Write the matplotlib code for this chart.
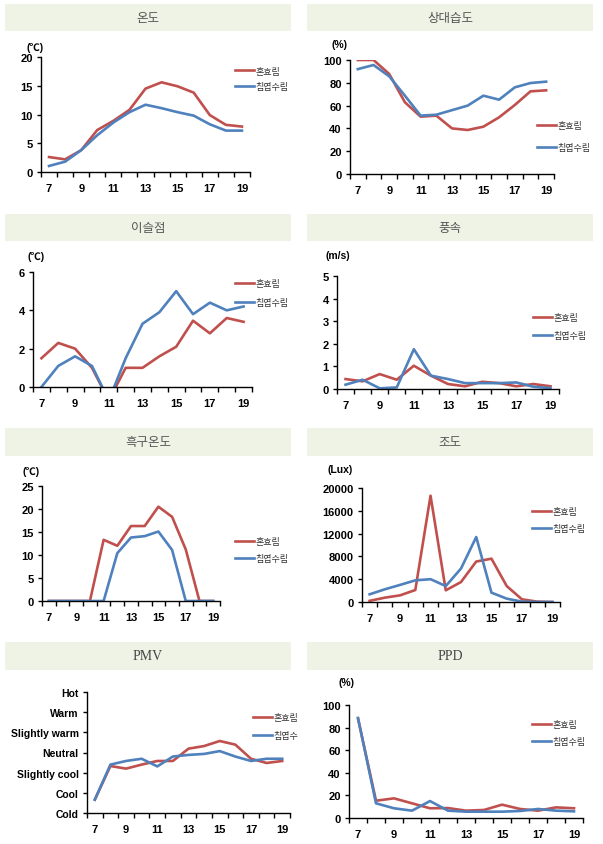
import matplotlib
matplotlib.use("Agg")
import matplotlib.pyplot as plt
from matplotlib.patches import Rectangle
import numpy as np

plt.rcParams['font.family'] = ['Liberation Sans', 'Noto Sans CJK KR', 'DejaVu Sans']

hours = [7, 8, 9, 10, 11, 12, 13, 14, 15, 16, 17, 18, 19]
hour_labels = ['7', '', '9', '', '11', '', '13', '', '15', '', '17', '', '19']
series_names = ['혼효림', '침엽수림']

temp_mixed = [2.6, 2.2, 3.8, 7.3, 8.9, 10.8, 14.5, 15.6, 14.9, 13.8, 9.9, 8.2, 7.9]
temp_conifer = [1.05, 1.8, 3.8, 6.4, 8.6, 10.4, 11.7, 11.1, 10.4, 9.8, 8.3, 7.2, 7.2]

rh_mixed = [100, 100, 87.7, 62.9, 50.3, 51.2, 40, 38.6, 41.5, 49.7, 60.5, 72.5, 73.4]
rh_conifer = [92, 95.6, 85.7, 68.7, 51.2, 52, 56, 60, 68.7, 65.2, 76, 79.8, 81]

dew_mixed = [1.5, 2.3, 2.0, 1.0, -0.7, 1.0, 1.0, 1.6, 2.1, 3.46, 2.8, 3.6, 3.4]
dew_conifer = [0.0, 1.1, 1.6, 1.1, -0.7, 1.5, 3.3, 3.9, 5.0, 3.8, 4.4, 4.0, 4.2]

wind_mixed = [0.44, 0.34, 0.66, 0.41, 1.03, 0.59, 0.22, 0.12, 0.32, 0.26, 0.12, 0.22, 0.12]
wind_conifer = [0.19, 0.41, 0.03, 0.07, 1.76, 0.59, 0.44, 0.26, 0.26, 0.26, 0.29, 0.10, 0.04]

globe_mixed = [0, 0, 0, 0, 13.3, 12.0, 16.3, 16.3, 20.5, 18.3, 11.2, 0, 0]
globe_conifer = [0, 0, 0, 0, 0, 10.4, 13.8, 14.1, 15.1, 11.1, 0, 0, 0]

lux_mixed = [200, 760, 1170, 2100, 18650, 2050, 3500, 7100, 7600, 2800, 470, 60, 0]
lux_conifer = [1350, 2230, 3000, 3800, 4000, 2800, 5870, 11400, 1640, 590, 60, 0, 0]

pmv_mixed = [-2.34, -0.67, -0.80, -0.60, -0.42, -0.42, 0.19, 0.32, 0.57, 0.39, -0.31, -0.52, -0.42]
pmv_conifer = [-2.34, -0.60, -0.42, -0.31, -0.69, -0.20, -0.12, -0.07, 0.07, -0.20, -0.42, -0.31, -0.31]
pmv_names = ['혼효림', '침엽수']
pmv_levels = [-3, -2, -1, 0, 1, 2, 3]
pmv_labels = ['Cold', 'Cool', 'Slightly cool', 'Neutral', 'Slightly warm', 'Warm', 'Hot']

ppd_mixed = [88, 15.3, 17.4, 13, 8.6, 8.8, 6.5, 7.1, 11.8, 8, 6.5, 9.4, 8.6]
ppd_conifer = [88.5, 13, 8.6, 6.5, 15, 6.5, 5.6, 5.6, 5.6, 6.2, 8, 6.5, 5.9]

W, H = 603, 845
fig = plt.figure(figsize=(W / 100, H / 100), dpi=100)
fig.patch.set_facecolor('white')

RED = '#C0504D'
BLUE = '#4F81BD'
BAND = '#EEF3E6'
LEG_FS = 6.5


def fx(x):
    return x / W


def fy(y):
    return 1 - y / H


def band(x0, x1, y0, y1, title, serif=False):
    fig.patches.append(Rectangle((fx(x0), fy(y1)), fx(x1) - fx(x0), fy(y0) - fy(y1),
                                 transform=fig.transFigure, facecolor=BAND, edgecolor='none'))
    if serif:
        fig.text(fx((x0 + x1) / 2), fy((y0 + y1) / 2), title, ha='center', va='center',
                 fontsize=10, color='#444444', family=['Liberation Serif', 'DejaVu Serif'])
    else:
        fig.text(fx((x0 + x1) / 2), fy((y0 + y1) / 2), title, ha='center', va='center',
                 fontsize=9, color='#555555', family=['Noto Sans CJK KR', 'DejaVu Sans'])


def make_axes(l, r, t, b, y0, y1, yticks, ytlabels, mixed, conifer, names,
              leg_x, leg_y, leg_sp, unit=None, unit_xy=None, ytick_size=8):
    ax = fig.add_axes([fx(l), fy(b), fx(r) - fx(l), fy(t) - fy(b)])
    x = np.arange(len(hours))
    ax.plot(x, mixed, color=RED, lw=1.9, label=names[0], solid_joinstyle='round')
    ax.plot(x, conifer, color=BLUE, lw=1.9, label=names[1], solid_joinstyle='round')
    ax.set_xlim(-0.5, len(hours) - 0.5)
    ax.set_ylim(y0, y1)
    for s in ['top', 'right']:
        ax.spines[s].set_visible(False)
    for s in ['left', 'bottom']:
        ax.spines[s].set_linewidth(1.0)
        ax.spines[s].set_color('black')
    ax.set_xticks(x)
    ax.set_xticklabels(hour_labels)
    ax.set_xticks(np.arange(-0.5, len(hours), 1.0), minor=True)
    ax.tick_params(axis='x', which='major', length=0, pad=8, labelsize=8)
    ax.tick_params(axis='x', which='minor', length=3.5, width=1.0, direction='out')
    ax.set_yticks(yticks)
    ax.set_yticklabels(ytlabels)
    ax.tick_params(axis='y', length=3, width=1.0, direction='out', pad=3, labelsize=ytick_size)
    for lab in ax.get_xticklabels() + ax.get_yticklabels():
        lab.set_fontweight('bold')
    ax.set_facecolor('none')
    leg = ax.legend(loc='upper left', bbox_to_anchor=(fx(leg_x), fy(leg_y)),
                    bbox_transform=fig.transFigure, frameon=False,
                    handlelength=2.1, handletextpad=0.15, labelspacing=leg_sp,
                    borderpad=0, borderaxespad=0,
                    prop={'family': ['Noto Sans CJK KR', 'DejaVu Sans'], 'size': LEG_FS})
    for t_ in leg.get_texts():
        t_.set_color('#333333')
    for ln in leg.get_lines():
        ln.set_linewidth(1.9)
    if unit:
        fig.text(fx(unit_xy[0]), fy(unit_xy[1]), unit, ha='center', va='center',
                 fontsize=7.5, fontweight='bold',
                 family=['Liberation Sans', 'Noto Sans CJK KR', 'DejaVu Sans'])
    return ax


# bands
band(5, 291, 5, 32, '온도')
band(307, 593, 5, 32, '상대습도')
band(5, 291, 215, 242, '이슬점')
band(307, 593, 215, 242, '풍속')
band(5, 291, 429, 457, '흑구온도')
band(307, 593, 429, 457, '조도')
band(5, 291, 643, 671, 'PMV', serif=True)
band(307, 593, 643, 671, 'PPD', serif=True)

make_axes(41, 250, 58, 173, 0, 20, [0, 5, 10, 15, 20], ['0', '5', '10', '15', '20'],
          temp_mixed, temp_conifer, series_names, 235, 67.5, 0.73, '(℃)', (35, 48))
make_axes(350, 554, 61, 175, 0, 100, [0, 20, 40, 60, 80, 100], ['0', '20', '40', '60', '80', '100'],
          rh_mixed, rh_conifer, series_names, 537, 122.5, 1.4, '(%)', (340, 45))
make_axes(33, 252, 273, 388, 0, 6, [0, 2, 4, 6], ['0', '2', '4', '6'],
          dew_mixed, dew_conifer, series_names, 235, 280.5, 1.06, '(℃)', (36, 257))
make_axes(337, 559, 277, 390, 0, 5, [0, 1, 2, 3, 4, 5], ['0', '1', '2', '3', '4', '5'],
          wind_mixed, wind_conifer, series_names, 533, 314.5, 0.95, '(m/s)', (338, 256))
make_axes(42, 220, 487, 602, 0, 25, [0, 5, 10, 15, 20, 25], ['0', '5', '10', '15', '20', '25'],
          globe_mixed, globe_conifer, series_names, 235, 538.5, 0.84, '(℃)', (31, 472))
make_axes(362, 560, 489, 603, 0, 20000, [0, 4000, 8000, 12000, 16000, 20000],
          ['0', '4000', '8000', '12000', '16000', '20000'],
          lux_mixed, lux_conifer, series_names, 532, 508.5, 0.84, '(Lux)', (340, 470))
make_axes(87, 290, 693, 814, -3, 3, pmv_levels, pmv_labels,
          pmv_mixed, pmv_conifer, pmv_names, 253, 714.5, 0.95, ytick_size=7.5)
make_axes(349, 583, 706, 819, 0, 100, [0, 20, 40, 60, 80, 100], ['0', '20', '40', '60', '80', '100'],
          ppd_mixed, ppd_conifer, series_names, 532, 721.5, 0.84, '(%)', (346, 683))

fig.savefig('out.png', dpi=100, facecolor='white')
